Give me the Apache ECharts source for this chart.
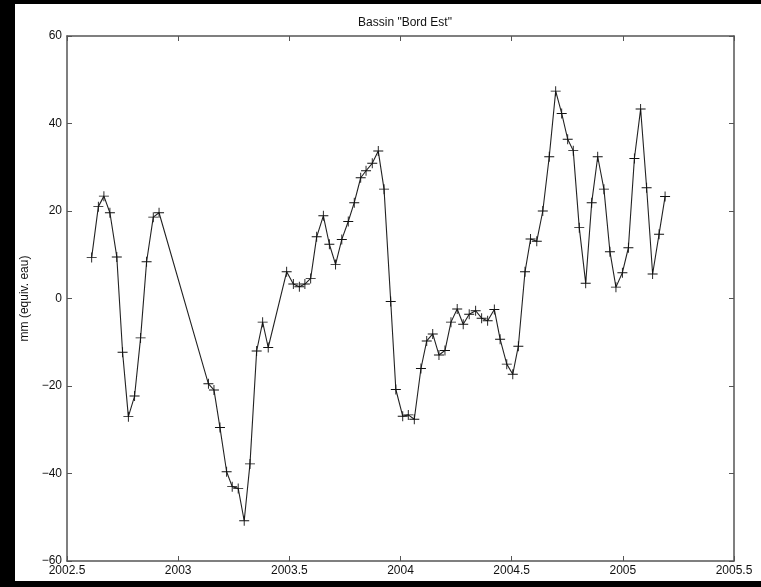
<!DOCTYPE html>
<html>
<head>
<meta charset="utf-8">
<title>Bassin "Bord Est"</title>
<script src="https://cdn.jsdelivr.net/npm/echarts@6/dist/echarts.min.js"></script>
<style>
  html, body { margin: 0; padding: 0; background: #000; }
  #chart { width: 761px; height: 587px; }
</style>
</head>
<body>
<div id="chart"></div>
<script>
// Time axis (decimal years) of each sample
const years = [
  2002.611, 2002.641, 2002.666, 2002.693, 2002.724, 2002.750, 2002.776, 2002.804, 2002.831, 2002.858, 2002.888, 2002.914,
  2003.136, 2003.161, 2003.188, 2003.218, 2003.243, 2003.270, 2003.297, 2003.323, 2003.353, 2003.380, 2003.405,
  2003.488, 2003.518, 2003.545, 2003.570, 2003.596, 2003.623, 2003.653, 2003.680, 2003.708, 2003.736, 2003.765, 2003.792,
  2003.821, 2003.845, 2003.873, 2003.900, 2003.926, 2003.956,
  2003.979, 2004.010, 2004.035, 2004.062, 2004.092, 2004.118, 2004.145, 2004.173, 2004.200, 2004.227, 2004.255,
  2004.282, 2004.309, 2004.338, 2004.365, 2004.392, 2004.422, 2004.448, 2004.478, 2004.505, 2004.530, 2004.560,
  2004.585, 2004.613, 2004.640, 2004.669, 2004.698, 2004.725, 2004.752, 2004.777, 2004.804, 2004.833, 2004.860,
  2004.887, 2004.915, 2004.942, 2004.969, 2004.998, 2005.025, 2005.052, 2005.080, 2005.107, 2005.134, 2005.163, 2005.190
];

// Water-equivalent height anomaly (mm)
const values = [
  9.4, 21.0, 23.4, 19.6, 9.5, -12.3, -27.0, -22.3, -9.0, 8.4, 18.6, 19.6,
  -19.5, -20.9, -29.5, -39.6, -43.0, -43.4, -50.8, -37.8, -12.0, -5.4, -11.2,
  6.1, 3.3, 2.7, 3.3, 4.6, 14.1, 18.9, 12.4, 7.8, 13.5, 17.6, 21.9,
  27.6, 29.2, 30.9, 33.7, 25.0, -0.7,
  -20.8, -26.9, -26.6, -27.6, -16.0, -9.7, -8.1, -12.9, -11.9, -5.4, -2.4,
  -5.9, -3.6, -2.8, -4.5, -5.1, -2.5, -9.3, -15.0, -17.3, -10.9, 6.1,
  13.6, 13.1, 20.0, 32.4, 47.4, 42.3, 36.4, 33.8, 16.2, 3.5, 21.9,
  32.4, 25.0, 10.7, 2.6, 5.9, 11.6, 32.0, 43.3, 25.3, 5.6, 14.7, 23.3
];

// Axis ranges and tick labels
const xTicks = [2002.5, 2003, 2003.5, 2004, 2004.5, 2005, 2005.5];
const yTicks = [-60, -40, -20, 0, 20, 40, 60];

const titleText = 'Bassin "Bord Est"';
const yAxisName = 'mm (equiv. eau)';

const FONT = '"Liberation Sans", Arial, sans-serif';
const AXIS_COLOR = '#555';

const points = years.map((t, i) => [t, values[i]]);

// Plus-sign marker drawn as two thin filled bars
const plusPath = 'path://M0,4.55H10V5.45H0Z M4.55,0H5.45V10H4.55Z';

function tickLabel(v) {
  return v < 0 ? '\u2212' + String(-v) : String(v);
}

const frameAxis = (extra) => Object.assign({
  type: 'value',
  axisLine: { show: true, onZero: false, lineStyle: { color: AXIS_COLOR, width: 1.5 } },
  axisTick: { show: true, inside: true, length: 5, lineStyle: { color: AXIS_COLOR, width: 1 } },
  splitLine: { show: false }
}, extra);

const chart = echarts.init(document.getElementById('chart'), null, { renderer: 'canvas' });

chart.setOption({
  backgroundColor: '#000',
  animation: false,
  graphic: [{
    type: 'rect',
    z: -100,
    shape: { x: 15, y: 4, width: 746, height: 577 },
    style: { fill: '#fff' },
    silent: true
  }],
  title: {
    text: titleText,
    left: 400,
    textAlign: 'center',
    top: 12,
    textStyle: { fontFamily: FONT, fontSize: 12, fontWeight: 'normal', color: '#111' }
  },
  grid: { left: 67, top: 36, width: 667, height: 525, show: false },
  xAxis: [
    frameAxis({
      position: 'bottom',
      min: xTicks[0], max: xTicks[xTicks.length - 1], interval: 0.5,
      axisLabel: { show: true, margin: 4, color: '#111', fontFamily: FONT, fontSize: 12, formatter: tickLabel, showMinLabel: true, showMaxLabel: true }
    }),
    frameAxis({
      position: 'top',
      min: xTicks[0], max: xTicks[xTicks.length - 1], interval: 0.5,
      axisLabel: { show: false }
    })
  ],
  yAxis: [
    frameAxis({
      position: 'left',
      min: yTicks[0], max: yTicks[yTicks.length - 1], interval: 20,
      name: yAxisName,
      nameLocation: 'middle',
      nameGap: 34,
      nameTextStyle: { fontFamily: FONT, fontSize: 12, color: '#111' },
      axisLabel: { show: true, margin: 5, color: '#111', fontFamily: FONT, fontSize: 12, formatter: tickLabel }
    }),
    frameAxis({
      position: 'right',
      min: yTicks[0], max: yTicks[yTicks.length - 1], interval: 20,
      axisLabel: { show: false }
    })
  ],
  series: [{
    type: 'line',
    data: points,
    xAxisIndex: 0,
    yAxisIndex: 0,
    symbol: plusPath,
    symbolSize: 10,
    showAllSymbol: true,
    lineStyle: { color: '#222', width: 1.1 },
    itemStyle: { color: '#111', borderWidth: 0 },
    emphasis: { disabled: true }
  }]
});
</script>
</body>
</html>
